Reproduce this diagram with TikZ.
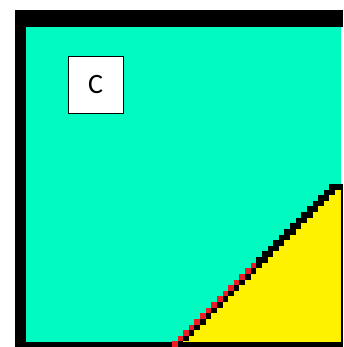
\documentclass[tikz,border=0pt]{standalone}
\usepackage{fontspec}
\setmainfont{Carlito}
\definecolor{aqua}{RGB}{0,250,192}
\definecolor{yel}{RGB}{255,242,0}
\definecolor{redc}{RGB}{237,28,36}
\tikzset{labelbox/.style={draw=black, fill=white, line width=1pt, minimum width=55pt, minimum height=57pt, inner sep=0pt, font=\fontsize{28}{33}\selectfont}}
\begin{document}
\begin{tikzpicture}[x=1pt,y=-1pt]
\useasboundingbox (0,0) rectangle (343,347);
\fill[white] (0,0) rectangle (343,347);
\fill[aqua] (26,27) rectangle (341,342);
\foreach \r in {0,...,28}{
  \pgfmathsetmacro\ya{184+\r*5.62}
  \pgfmathsetmacro\yb{\ya+5.62}
  \pgfmathsetmacro\xa{172+(28-\r)*5.62}
  \pgfmathsetmacro\xb{\xa+5.62}
  \pgfmathsetmacro\xc{\xb+5.62}
  \fill[yel] (\xc,\ya) rectangle (341,\yb);
}
% borders
\fill[black] (15,10) rectangle (343,27);
\fill[black] (15,10) rectangle (26,347);
\fill[black] (15,342) rectangle (343,347);
\fill[black] (341,184) rectangle (343,347);
% staircase
\foreach \r in {0,...,28}{
  \pgfmathsetmacro\ya{184+\r*5.62}
  \pgfmathsetmacro\yb{\ya+5.62}
  \pgfmathsetmacro\xa{172+(28-\r)*5.62}
  \pgfmathsetmacro\xb{\xa+5.62}
  \pgfmathsetmacro\xc{min(\xb+5.62,341)}
  \ifnum\r<14
    \fill[black] (\xa,\ya) rectangle (\xc,\yb);
  \else
    \fill[redc] (\xa,\ya) rectangle (\xb,\yb);
    \fill[black] (\xb,\ya) rectangle (\xc,\yb);
  \fi
}
\node[labelbox] (c) at (95.5,85) {C};
\end{tikzpicture}
\end{document}
